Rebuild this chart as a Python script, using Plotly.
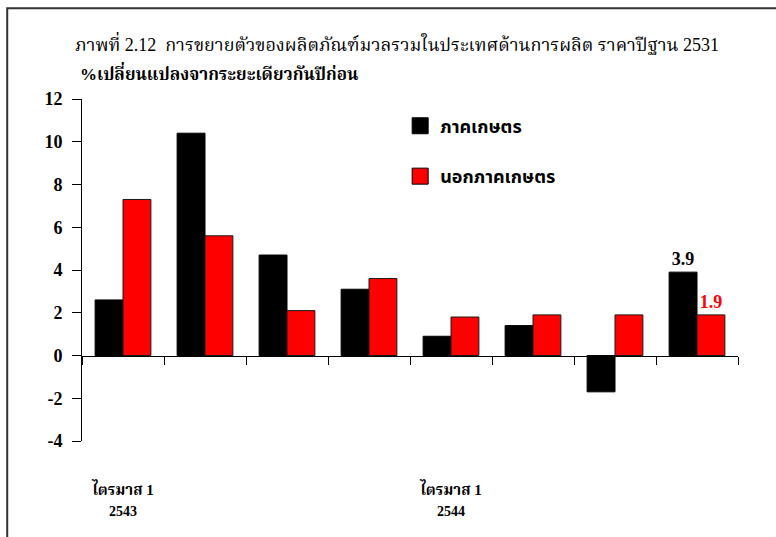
import plotly.graph_objects as go

# Quarterly GDP growth by production side, % change from same period of previous year
quarters = ["ไตรมาส 1 2543", "ไตรมาส 2 2543", "ไตรมาส 3 2543", "ไตรมาส 4 2543",
            "ไตรมาส 1 2544", "ไตรมาส 2 2544", "ไตรมาส 3 2544", "ไตรมาส 4 2544"]
agri = [2.6, 10.4, 4.7, 3.1, 0.9, 1.4, -1.7, 3.9]
non_agri = [7.3, 5.6, 2.1, 3.6, 1.8, 1.9, 1.9, 1.9]

series_names = ["ภาคเกษตร", "นอกภาคเกษตร"]
series_colors = ["#000000", "#ff0000"]

label_quarters = [quarters[0], quarters[4]]
label_quarter_text = ["ไตรมาส 1", "ไตรมาส 1"]
label_year_text = ["2543", "2544"]

y_ticks = list(range(-4, 13, 2))
y_tick_text = [str(v) for v in y_ticks]  # plain hyphen for negatives

SERIF = "Liberation Serif, Times New Roman, serif"
THAI = "Noto Sans Thai, Loma, Garuda, Tlwg Typo, Noto Sans, DejaVu Sans, sans-serif"
SERIF_THAI = "Liberation Serif, Noto Serif Thai, Noto Sans Thai, Loma, Garuda, Noto Sans, serif"

# only the latest quarter carries a value label
agri_text = ["" for _ in agri[:-1]] + [f"{agri[-1]:.1f}"]
non_agri_text = ["" for _ in non_agri[:-1]] + [f"{non_agri[-1]:.1f}"]

fig = go.Figure()
fig.add_trace(go.Bar(
    x=quarters, y=agri, name=series_names[0], showlegend=False,
    marker=dict(color=series_colors[0], line=dict(color="#000000", width=1)),
    text=agri_text, textposition="outside", cliponaxis=False,
    textfont=dict(family=SERIF, size=18, color=series_colors[0], weight="bold"),
))
fig.add_trace(go.Bar(
    x=quarters, y=non_agri, name=series_names[1], showlegend=False,
    marker=dict(color=series_colors[1], line=dict(color="#1a1a1a", width=1)),
    text=non_agri_text, textposition="outside", cliponaxis=False,
    textfont=dict(family=SERIF, size=18, color=series_colors[1], weight="bold"),
))

# legend keys with larger square swatches
for i, (nm, col) in enumerate(zip(series_names, series_colors)):
    fig.add_trace(go.Scatter(
        x=[None], y=[None], mode="markers", name=nm, legendgroup=f"g{i}",
        marker=dict(symbol="square", size=20, color=col, line=dict(color="#000000", width=1)),
        hoverinfo="skip",
    ))

# zero-line axis with boundary ticks, and two stacked label rows below the plot
fig.add_trace(go.Bar(x=quarters, y=[None] * len(quarters), xaxis="x2",
                     showlegend=False, hoverinfo="skip"))
fig.add_trace(go.Bar(x=quarters, y=[None] * len(quarters), xaxis="x3",
                     showlegend=False, hoverinfo="skip"))

fig.update_layout(
    width=776, height=537,
    margin=dict(l=82, r=38, t=99, b=96),
    paper_bgcolor="white", plot_bgcolor="white",
    barmode="group", bargap=0.32, bargroupgap=0,
    showlegend=True,
    legend=dict(
        x=0.485, y=0.975, xanchor="left", yanchor="top",
        font=dict(family=THAI, size=18, color="#000000", weight="bold"),
        bgcolor="rgba(0,0,0,0)", tracegroupgap=24, itemsizing="trace",
    ),
    xaxis=dict(
        type="category", categoryorder="array", categoryarray=quarters,
        tickvals=label_quarters, ticktext=label_quarter_text,
        showline=False, ticks="", showgrid=False, zeroline=False,
        ticklabelstandoff=38,
        tickfont=dict(family=SERIF_THAI, size=15, color="#000000", weight="bold"),
    ),
    xaxis3=dict(
        type="category", categoryorder="array", categoryarray=quarters,
        overlaying="x", matches="x", anchor="y", side="bottom",
        tickvals=label_quarters, ticktext=label_year_text,
        showline=False, ticks="", showgrid=False, zeroline=False,
        ticklabelstandoff=60,
        tickfont=dict(family=SERIF, size=14, color="#000000", weight="bold"),
    ),
    xaxis2=dict(
        type="category", categoryorder="array", categoryarray=quarters,
        overlaying="x", matches="x", anchor="free", position=4 / 16,
        showline=True, linecolor="#000000", linewidth=1,
        ticks="outside", tickson="boundaries", ticklen=8, tickcolor="#000000",
        showticklabels=False, showgrid=False, zeroline=False,
    ),
    yaxis=dict(
        range=[-4, 12], tickvals=y_ticks, ticktext=y_tick_text,
        ticks="outside", ticklen=9, ticklabelstandoff=6,
        tickcolor="#000000", showline=True, linecolor="#000000", linewidth=1,
        showgrid=False, zeroline=False,
        tickfont=dict(family=SERIF, size=18, color="#000000", weight="bold"),
    ),
    annotations=[
        dict(text="ภาพที่ 2.12  การขยายตัวของผลิตภัณฑ์มวลรวมในประเทศด้านการผลิต ราคาปีฐาน 2531",
             xref="paper", yref="paper", x=0.48, y=1.165, xanchor="center", yanchor="middle",
             showarrow=False, font=dict(family=SERIF_THAI, size=18, color="#000000")),
        dict(text="%เปลี่ยนแปลงจากระยะเดียวกันปีก่อน",
             xref="paper", yref="paper", x=-0.006, y=1.077, xanchor="left", yanchor="middle",
             showarrow=False, font=dict(family=SERIF_THAI, size=17, color="#000000", weight="bold")),
    ],
    shapes=[
        dict(type="rect", xref="paper", yref="paper",
             x0=-0.114, y0=-0.5, x1=1.5, y1=1.265,
             line=dict(color="#333333", width=2), fillcolor="rgba(0,0,0,0)", layer="below"),
    ],
)

fig.write_html("out.html")
